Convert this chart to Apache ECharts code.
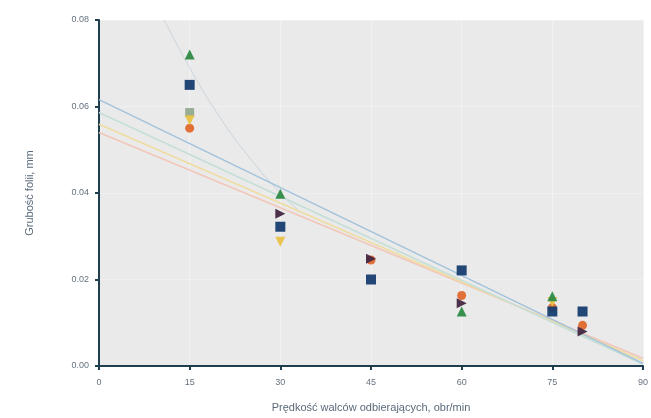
<!DOCTYPE html>
<html>
<head>
<meta charset="utf-8">
<script src="https://cdn.jsdelivr.net/npm/echarts@6/dist/echarts.min.js"></script>
<style>
  html, body { margin: 0; padding: 0; background: #fff; }
  #chart { width: 651px; height: 418px; }
</style>
</head>
<body>
<div id="chart"></div>
<script>
// predkosc walcow (obr/min)
var speeds = [15, 30, 45, 60, 75, 80];

// grubosc folii, mm, null = no point
var orangeCircle = [0.055, null, 0.0245, 0.0163, 0.0135, 0.0094];
var navySquare = [0.065, 0.0322, 0.020, 0.0221, 0.0126, 0.0126];
var greenTriangle = [0.072, 0.0398, null, 0.0126, 0.0161, null];
var yellowDown = [0.0568, 0.0287, null, null, 0.0148, null];
var maroonRight = [null, 0.0352, 0.0248, 0.0145, null, 0.0080];
var greyGreen = [0.0586, null, null, null, null, null];

// trend lines, endpoints
var trendBlue = [[0, 0.0616], [90, 0.0006]];
var trendTeal = [[0, 0.0586], [90, 0.0004]];
var trendYellow = [[0, 0.0559], [90, 0.0012]];
var trendPink = [[0, 0.0540], [90, 0.0018]];
var trendCurve = [[10.8, 0.080], [15, 0.0690], [20, 0.0575], [25, 0.0480], [30, 0.0400], [33, 0.0360]];

var xTicks = [0, 15, 30, 45, 60, 75, 90];
var yTicks = [0, 0.02, 0.04, 0.06, 0.08];

function pairs(vals) {
    var out = [];
    for (var i = 0; i < speeds.length; i++) {
        if (vals[i] !== null) out.push([speeds[i], vals[i]]);
    }
    return out;
}

function scatter(name, vals, symbol, color, rotate, size) {
    return {
        name: name,
        type: 'scatter',
        symbol: symbol,
        symbolRotate: rotate || 0,
        symbolSize: size || 10,
        itemStyle: { color: color, opacity: 0.95 },
        data: pairs(vals),
        z: 5
    };
}

function trend(data, color, width, smooth) {
    return {
        type: 'line',
        data: data,
        smooth: smooth || false,
        symbol: 'none',
        lineStyle: { color: color, width: width || 1.5 },
        silent: true,
        z: 3
    };
}

var myChart = echarts.init(document.getElementById('chart'));
var option = {
    animation: false,
    backgroundColor: '#ffffff',
    grid: {
        left: 99,
        right: 8,
        top: 20,
        bottom: 50,
        show: true,
        backgroundColor: '#eaeaea',
        borderWidth: 0
    },
    xAxis: {
        type: 'value',
        min: 0,
        max: 90,
        interval: 15,
        name: 'Prędkość walców odbierających, obr/min',
        nameLocation: 'middle',
        nameGap: 36,
        nameTextStyle: { color: '#5a6a7a', fontSize: 11, fontFamily: 'Liberation Sans' },
        axisLine: { lineStyle: { color: '#1f3f4f', width: 2 } },
        axisTick: { show: true, inside: false, length: 4, lineStyle: { color: '#1f3f4f', width: 2 } },
        axisLabel: {
            color: '#66727e',
            fontSize: 9,
            margin: 12,
            fontFamily: 'Liberation Sans',
            formatter: function (v) { return xTicks.indexOf(v) >= 0 ? String(v) : ''; }
        },
        splitLine: { show: true, lineStyle: { color: '#f2f2f2', width: 1 } }
    },
    yAxis: {
        type: 'value',
        min: 0,
        max: 0.08,
        interval: 0.02,
        name: 'Grubość folii, mm',
        nameLocation: 'middle',
        nameGap: 64,
        nameTextStyle: { color: '#5a6a7a', fontSize: 11, fontFamily: 'Liberation Sans' },
        axisLine: { show: true, lineStyle: { color: '#1f3f4f', width: 2 } },
        axisTick: { show: true, length: 4, lineStyle: { color: '#1f3f4f', width: 2 } },
        axisLabel: {
            color: '#66727e',
            fontSize: 9,
            margin: 10,
            fontFamily: 'Liberation Sans',
            formatter: function (v) {
                for (var i = 0; i < yTicks.length; i++) {
                    if (Math.abs(yTicks[i] - v) < 1e-9) return v.toFixed(2);
                }
                return '';
            }
        },
        splitLine: { show: true, lineStyle: { color: '#f0f0f0', width: 1 } }
    },
    series: [
        trend(trendCurve, '#c9d4dc', 1, true),
        trend(trendPink, '#f2c6b8', 1.5),
        trend(trendYellow, '#efdca0', 1.5),
        trend(trendTeal, '#c4ded8', 1.5),
        trend(trendBlue, '#a2c2dc', 1.5),
        scatter('orange', orangeCircle, 'circle', '#e0692e', 0, 9),
        scatter('greygreen', greyGreen, 'rect', '#93ab8f', 0, 9),
        scatter('yellow', yellowDown, 'triangle', '#e9c247', 180, 10),
        scatter('green', greenTriangle, 'triangle', '#2f8a44', 0, 10),
        scatter('maroon', maroonRight, 'triangle', '#452641', -90, 10),
        scatter('navy', navySquare, 'rect', '#173d70', 0, 10)
    ]
};
myChart.setOption(option);
</script>
</body>
</html>
